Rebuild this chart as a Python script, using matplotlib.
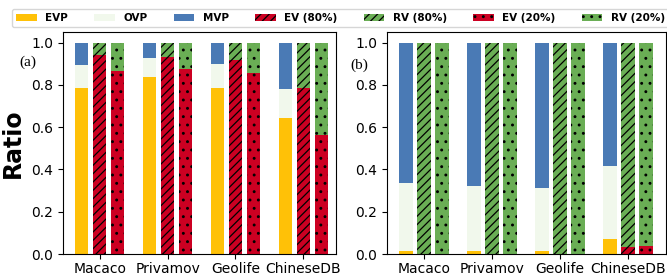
"""Stacked ratio bars for two panels, (a) and (b)."""

import matplotlib

matplotlib.use("Agg")

import matplotlib.pyplot as plt
import numpy as np

DATASETS = ["Macaco", "Privamov", "Geolife", "ChineseDB"]

# panel (a)
EVP_A = [0.786, 0.838, 0.786, 0.643]
OVP_A = [0.110, 0.090, 0.114, 0.137]
EV80_A = [0.940, 0.932, 0.917, 0.787]
EV20_A = [0.865, 0.874, 0.857, 0.561]

# panel (b)
EVP_B = [0.014, 0.014, 0.016, 0.069]
OVP_B = [0.324, 0.308, 0.298, 0.345]
EV80_B = [0.0, 0.0, 0.0, 0.035]
EV20_B = [0.0, 0.0, 0.0, 0.039]

C_EVP = "#ffc107"
C_OVP = "#f1f8ec"
C_MVP = "#4a7ab5"
C_EV = "#cc0022"
C_RV = "#6aae55"

WIDTH = 0.2
OFFSET = 0.265

plt.rcParams["hatch.linewidth"] = 0.9


def draw_panel(ax, evp, ovp, ev80, ev20):
    x = np.arange(len(DATASETS))
    evp = np.array(evp)
    ovp = np.array(ovp)
    mvp = 1.0 - evp - ovp
    ev80 = np.array(ev80)
    ev20 = np.array(ev20)
    kw = dict(width=WIDTH, edgecolor="black", linewidth=0)

    ax.bar(x - OFFSET, evp, color=C_EVP, label="EVP", **kw)
    ax.bar(x - OFFSET, ovp, bottom=evp, color=C_OVP, label="OVP", **kw)
    ax.bar(x - OFFSET, mvp, bottom=evp + ovp, color=C_MVP, label="MVP", **kw)
    ax.bar(x, ev80, color=C_EV, hatch="////", label="EV (80%)", **kw)
    ax.bar(x, 1.0 - ev80, bottom=ev80, color=C_RV, hatch="////", label="RV (80%)", **kw)
    ax.bar(x + OFFSET, ev20, color=C_EV, hatch="..", label="EV (20%)", **kw)
    ax.bar(x + OFFSET, 1.0 - ev20, bottom=ev20, color=C_RV, hatch="..", label="RV (20%)", **kw)

    ax.set_xticks(x)
    ax.set_xticklabels(DATASETS, fontsize=10)
    ax.set_ylim(0, 1.05)
    ax.set_yticks(np.arange(0, 1.01, 0.2))
    ax.tick_params(axis="y", labelsize=10)
    ax.tick_params(axis="x", pad=2)


fig = plt.figure(figsize=(6.67, 2.76), dpi=100)
ax_a = fig.add_axes([63 / 667, 22 / 276, 273 / 667, 222 / 276])
ax_b = fig.add_axes([387 / 667, 22 / 276, 279 / 667, 222 / 276])

draw_panel(ax_a, EVP_A, OVP_A, EV80_A, EV20_A)
draw_panel(ax_b, EVP_B, OVP_B, EV80_B, EV20_B)
ax_a.set_xlim(-0.54, 3.48)
ax_b.set_xlim(-0.54, 3.56)

ax_a.set_ylabel("Ratio", fontsize=17, fontweight="bold")
ax_a.yaxis.set_label_coords(-0.139, 0.5)

ax_a.text(-0.13, 0.865, "(a)", transform=ax_a.transAxes, fontsize=11,
          family="Liberation Serif", ha="center", va="center")
ax_b.text(-0.10, 0.85, "(b)", transform=ax_b.transAxes, fontsize=11,
          family="Liberation Serif", ha="center", va="center")

handles, labels = ax_a.get_legend_handles_labels()
fig.legend(handles, labels, ncol=7, loc="lower left",
           bbox_to_anchor=(12 / 667, 1 - 27 / 276, 0.985, 20 / 276),
           mode="expand", prop={"size": 7.5, "weight": "bold"},
           handlelength=2.0, borderaxespad=0, frameon=True)

fig.savefig("out.png", dpi=100)
